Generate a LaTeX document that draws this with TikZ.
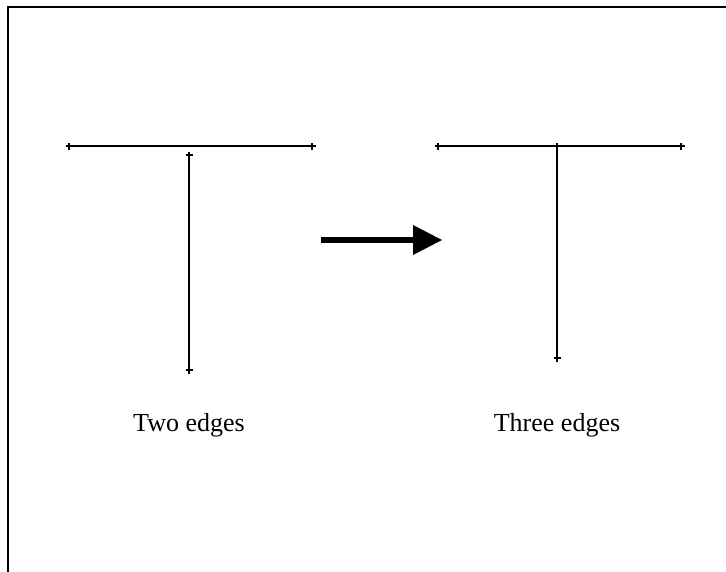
\documentclass[tikz,border=0pt]{standalone}
\usepackage{fontspec}
\setmainfont{Liberation Serif}
\begin{document}
\begin{tikzpicture}[x=1pt,y=-1pt,
  edge/.style={line width=1.3pt},
  tick/.style={line width=1.3pt},
  label/.style={font=\fontsize{26}{30}\selectfont, anchor=base, inner sep=0pt}]
\useasboundingbox (0,0) rectangle (726,571);
\clip (0,0) rectangle (726,571);
% frame (extends past right and bottom edges)
\draw[line width=2pt] (8,7) rectangle (760,600);
% left T
\coordinate (la) at (69,146);
\coordinate (lb) at (312,146);
\coordinate (lc) at (189,155);
\coordinate (ld) at (189,370);
\draw[edge] (la) -- (lb);
\draw[edge] (lc) -- (ld);
% right T
\coordinate (ra) at (438,146);
\coordinate (rb) at (681,146);
\coordinate (rc) at (557,146);
\coordinate (rd) at (557,358);
\draw[edge] (ra) -- (rb);
\draw[edge] (rc) -- (rd);
% cross marks
\foreach \p in {la,lb,lc,ld,ra,rb,rc,rd}{
  \draw[tick] ([xshift=-3.5pt]\p) -- ([xshift=3.5pt]\p);
  \draw[tick] ([yshift=-3.5pt]\p) -- ([yshift=3.5pt]\p);
}
% arrow
\coordinate (as) at (321,240);
\coordinate (ab) at (413,240);
\coordinate (at) at (442,240);
\draw[line width=6.5pt] (as) -- ([xshift=1pt]ab);
\fill ([yshift=-15pt]ab) -- (at) -- ([yshift=15pt]ab) -- cycle;
% labels
\node[label] (t1) at (189,431) {Two edges};
\node[label] (t2) at (557,431) {Three edges};
\end{tikzpicture}
\end{document}
